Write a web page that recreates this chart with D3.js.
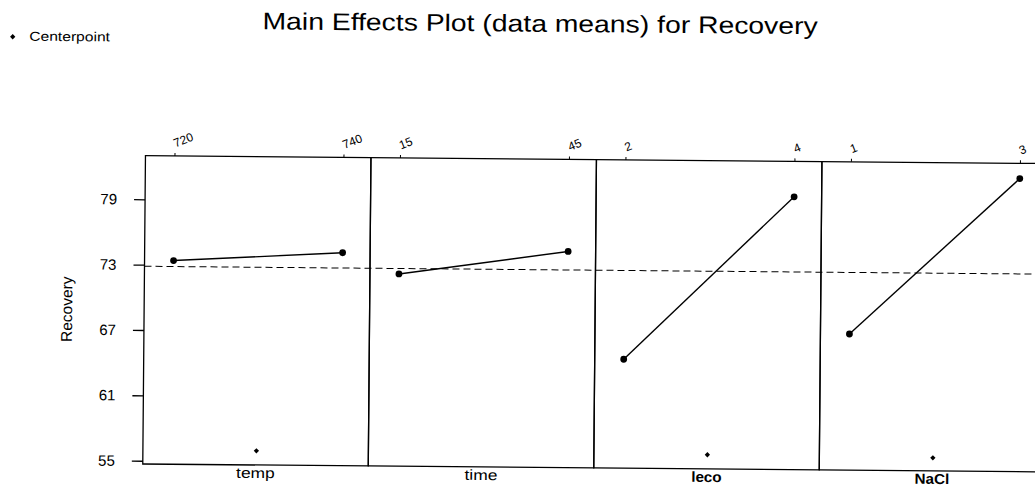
<!DOCTYPE html>
<html><head><meta charset="utf-8">
<script src="https://cdn.jsdelivr.net/npm/d3@7"></script>
<style>
body{margin:0;background:#fff}
svg{display:block;background:#fff}
text{font-family:"Liberation Sans",Arial,Helvetica,sans-serif;fill:#000}
</style>
</head><body>
<svg id="chart" width="1035" height="486"></svg>
<script>
// ---- data ----
const factors = ["temp", "time", "leco", "NaCl"];
const lowLevels = [720, 15, 2, 1];
const highLevels = [740, 45, 4, 3];
const lowMeans = [73.4, 72.35, 64.7, 67.2];
const highMeans = [74.25, 74.55, 79.75, 81.6];
const centerMeans = [56.0, null, 56.0, 55.9];
const grandMean = 72.85;
const yTicks = [55, 61, 67, 73, 79];
const titleText = "Main Effects Plot (data means) for Recovery";
const yLabelText = "Recovery";
const legendText = "Centerpoint";

// ---- layout ----
const W = 1035, H = 486;
const plot = {left: 144.5, top: 155.7, bottom: 464, panelW: 225.5};
const STRETCH = 1.2;
const FONT = '"Liberation Sans",Arial,Helvetica,sans-serif';

const svg = d3.select("#chart");
svg.append("rect").attr("width", W).attr("height", H).attr("fill", "#fff");
const root = svg.append("g").attr("transform", "rotate(0.5,144,266)");

function stretch(sel, k) {
  sel.each(function () {
    const L = this.getComputedTextLength();
    d3.select(this).attr("textLength", L * k).attr("lengthAdjust", "spacingAndGlyphs");
  });
}

const y = d3.scaleLinear().domain([54.7, 83]).range([plot.bottom, plot.top]);
const panel = d3.scaleBand().domain(factors)
  .range([plot.left, plot.left + factors.length * plot.panelW]).paddingInner(0).paddingOuter(0);

// title
root.append("text").attr("x", 538).attr("y", 28.3).attr("text-anchor", "middle")
  .attr("font-size", 24).text(titleText).call(stretch, 1.18);

// legend
root.append("path").attr("d", d3.symbol(d3.symbolSquare, 14)())
  .attr("transform", "translate(10.7,37.9) rotate(45)").attr("fill", "#000");
root.append("text").attr("x", 27.3).attr("y", 41.7).attr("font-size", 13)
  .text(legendText).call(stretch, STRETCH);

// grand mean dashed reference
root.append("line")
  .attr("x1", plot.left).attr("x2", plot.left + factors.length * plot.panelW)
  .attr("y1", y(grandMean)).attr("y2", y(grandMean))
  .attr("stroke", "#000").attr("stroke-width", 1).attr("stroke-dasharray", "7,4");

// y axis
const yAxis = root.append("g").attr("transform", `translate(${plot.left},0)`)
  .call(d3.axisLeft(y).tickValues(yTicks).tickSize(11).tickPadding(17).tickFormat(d3.format("d")));
yAxis.select(".domain").remove();
yAxis.attr("font-size", 15).attr("font-family", FONT);
yAxis.selectAll("line").attr("stroke", "#000").attr("stroke-width", 1.3);
yAxis.selectAll("text").attr("fill", "#000");

root.append("text")
  .attr("transform", `translate(72.5,${(plot.top + plot.bottom) / 2}) rotate(-90)`)
  .attr("text-anchor", "middle").attr("font-size", 15.5).text(yLabelText);

// panels
factors.forEach((f, i) => {
  const x0 = panel(f);
  const xs = d3.scaleLinear().domain([lowLevels[i], highLevels[i]]).range([x0 + 29, x0 + 198]);
  const g = root.append("g");

  g.append("rect").attr("x", x0).attr("y", plot.top)
    .attr("width", panel.bandwidth()).attr("height", plot.bottom - plot.top)
    .attr("fill", "none").attr("stroke", "#000").attr("stroke-width", 1.3);

  const top = g.append("g").attr("transform", `translate(0,${plot.top})`)
    .call(d3.axisTop(xs).tickValues([lowLevels[i], highLevels[i]]).tickSize(3).tickFormat(d3.format("d")));
  top.select(".domain").remove();
  top.attr("font-size", 12).attr("font-family", FONT);
  top.selectAll("line").attr("stroke", "#000").attr("stroke-width", 1);
  top.selectAll("text").attr("fill", "#000").attr("y", null).attr("dy", null)
    .attr("text-anchor", "start").attr("transform", "translate(0.5,-8.5) rotate(-22)");

  const pts = [[lowLevels[i], lowMeans[i]], [highLevels[i], highMeans[i]]];
  g.append("path").attr("d", d3.line().x(d => xs(d[0])).y(d => y(d[1]))(pts))
    .attr("fill", "none").attr("stroke", "#000").attr("stroke-width", 1.4);
  g.selectAll("circle.m").data(pts).join("circle").attr("class", "m")
    .attr("cx", d => xs(d[0])).attr("cy", d => y(d[1])).attr("r", 3.4).attr("fill", "#000");

  if (centerMeans[i] != null) {
    const cx = xs((lowLevels[i] + highLevels[i]) / 2);
    g.append("path").attr("d", d3.symbol(d3.symbolSquare, 14)())
      .attr("transform", `translate(${cx},${y(centerMeans[i])}) rotate(45)`).attr("fill", "#000");
  }

  const lab = g.append("text").attr("x", x0 + panel.bandwidth() / 2).attr("y", plot.bottom + 13)
    .attr("text-anchor", "middle").attr("font-size", 14.5)
    .attr("font-weight", i >= 2 ? "bold" : "normal").text(f);
  lab.call(stretch, i >= 2 ? 1.05 : STRETCH);
});
</script>
</body></html>
